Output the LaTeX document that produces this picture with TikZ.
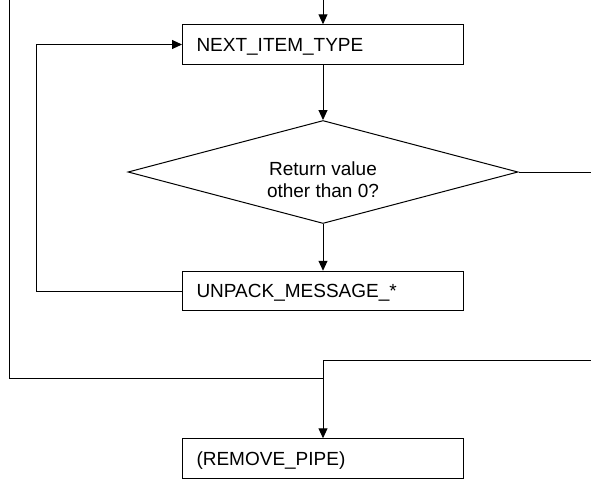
\documentclass[tikz,border=0pt]{standalone}
\usepackage{fontspec}
\setmainfont{Liberation Sans}
\usepackage{tikz}
\usetikzlibrary{shapes.geometric,arrows.meta}

\tikzset{
  stepbox/.style={draw, rectangle, line width=1pt, minimum width=281pt,
    minimum height=39.5pt, text width=253pt, inner xsep=14pt, inner ysep=0pt,
    align=left, text height=13.6pt, text depth=0pt,
    font=\fontsize{19}{22}\selectfont},
  testbox/.style={draw, diamond, line width=1pt, minimum width=390pt,
    minimum height=103pt, inner sep=0pt},
  flow/.style={line width=1pt},
  arr/.style={flow, -{Triangle[length=10pt,width=9pt]}}
}

\begin{document}
\begin{tikzpicture}[x=1pt, y=-1pt]

  \pgfmathsetmacro{\xmid}{323}
  \pgfmathsetmacro{\xlimit}{591}
  \pgfmathsetmacro{\ylimit}{479}

  \useasboundingbox (0,0) rectangle (\xlimit,\ylimit);

  % Draw boxes and the test
  \node[stepbox] (next) at (\xmid,44.5) {NEXT\_ITEM\_TYPE};
  \node[testbox, label={[yshift=-7.5pt, align=center,
    font=\fontsize{19}{22}\selectfont]center:Return value\\other than 0?}]
    (test) at (\xmid,172) {};
  \node[stepbox] (unpack) at (\xmid,291) {UNPACK\_MESSAGE\_*};
  \node[stepbox] (remove) at (\xmid,458.5) {(REMOVE\_PIPE)};

  % Free ends of lines
  \coordinate (topin) at (\xmid,0);
  \coordinate (leftin) at (9,0);
  \coordinate (loopx) at (36,0);
  \coordinate (testout) at (\xlimit,172);
  \coordinate (rightin) at (\xlimit,360);
  \coordinate (join) at (\xmid,378);

  % Main flow
  \draw[arr] (topin) -- (next);
  \draw[arr] (next) -- (test);
  \draw[arr] (test) -- (unpack);
  \draw[flow] (test.east) -- (testout);

  % Loop back
  \draw[arr] (unpack.west) -- (unpack.west -| loopx) |- (next.west);

  % Lines into the last box
  \draw[flow] (leftin) |- (join);
  \draw[arr] (rightin) -| (remove);

\end{tikzpicture}
\end{document}
